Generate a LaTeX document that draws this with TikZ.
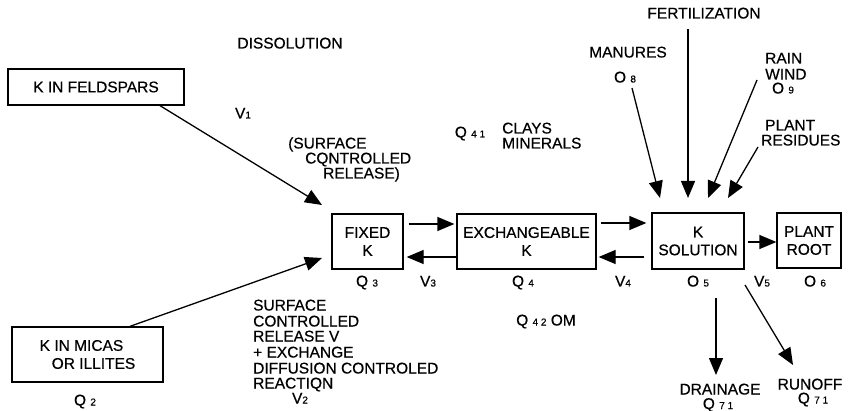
\documentclass[tikz,border=0pt]{standalone}
\usepackage{fontspec}
\setmainfont[FakeBold=0.5]{Liberation Sans}
\usetikzlibrary{arrows.meta}
\newcommand\dg[1]{{\fontsize{10}{10}\selectfont #1}}
\begin{document}
\begin{tikzpicture}[x=1pt,y=-1pt,
  font=\fontsize{15.5}{18}\selectfont,
  box/.style={draw, line width=1.3pt, inner sep=0pt, align=center},
  lbl/.style={inner sep=0pt, text height=11pt, text depth=0pt},
  arr/.style={line width=1.3pt, -{Triangle[length=17pt,width=14pt]}}]
\useasboundingbox (0,0) rectangle (850,411);

% boxes
\node[box, minimum width=176pt, minimum height=36pt] (feld) at (96,87) {K IN FELDSPARS};
\node[box, minimum width=151pt, minimum height=55pt, align=left] (micas) at (87.5,354.5) {K IN MICAS\\\hspace*{12pt}OR ILLITES};
\node[box, minimum width=71pt, minimum height=55pt] (fixed) at (367.5,241.5) {FIXED\\K};
\node[box, minimum width=139pt, minimum height=55pt] (exch) at (526.5,241.5) {EXCHANGEABLE\\K};
\node[box, minimum width=92pt, minimum height=56pt] (ksol) at (698,241) {K\\SOLUTION};
\node[box, minimum width=64pt, minimum height=55pt] (root) at (809,240.5) {PLANT\\ROOT};

% horizontal arrows
\draw[arr, shorten <=5pt, shorten >=2pt] (fixed.east |- 0,224) -- (exch.west |- 0,224);
\draw[arr, shorten >=3pt] (exch.west |- 0,257) -- (fixed.east |- 0,257);
\draw[arr, shorten <=4pt, shorten >=5pt] (exch.east |- 0,223) -- (ksol.west |- 0,223);
\draw[arr, shorten <=7pt, shorten >=2pt] (ksol.west |- 0,257) -- (exch.east |- 0,257);
\draw[arr, shorten <=3pt] (ksol.east |- 0,242) -- (root.west |- 0,242);

% diagonal arrows to fixed K
\coordinate (t1) at (322,205);
\coordinate (t2) at (322,258);
\draw[arr] (feld.south -| 160,0) -- (t1);
\draw[arr] (micas.north -| 130,0) -- (t2);

% inputs to K solution
\coordinate (m0) at (632,88);  \coordinate (m1) at (660,198);
\coordinate (f0) at (688,29);  \coordinate (f1) at (688,198);
\coordinate (r0) at (757,80);  \coordinate (r1) at (708,198);
\coordinate (p0) at (758,147); \coordinate (p1) at (728,198);
\draw[arr] (m0) -- (m1);
\draw[arr] (f0) -- (f1);
\draw[arr] (r0) -- (r1);
\draw[arr] (p0) -- (p1);

% outputs
\coordinate (d0) at (716,298); \coordinate (d1) at (716,375);
\coordinate (u0) at (745,285); \coordinate (u1) at (793,365);
\draw[arr] (d0) -- (d1);
\draw[arr] (u0) -- (u1);

% labels
\node[lbl] (dis) at (290,43) {DISSOLUTION};
\node[lbl] (v1) at (243,113) {V\dg{1}};
\node[lbl, anchor=west] (sc1) at (288,143) {(SURFACE};
\node[lbl, anchor=west] (sc2) at (305,158) {CQNTROLLED};
\node[lbl, anchor=west] (sc3) at (323,173) {RELEASE)};
\node[lbl] (q41) at (470,132) {Q \dg{4 1}};
\node[lbl, anchor=west] (clays) at (502,128) {CLAYS};
\node[lbl, anchor=west] (miner) at (502,143) {MINERALS};
\node[lbl] (fert) at (704,13) {FERTILIZATION};
\node[lbl] (man) at (628,52) {MANURES};
\node[lbl] (o8) at (625,77) {O \dg{8}};
\node[lbl, anchor=west] (rain) at (765,58) {RAIN};
\node[lbl, anchor=west] (wind) at (765,74) {WIND};
\node[lbl] (o9) at (783,88) {O \dg{9}};
\node[lbl, anchor=west] (plant) at (765,125) {PLANT};
\node[lbl, anchor=west] (resid) at (761,140) {RESIDUES};

\node[lbl] (q3) at (367,281) {Q \dg{3}};
\node[lbl] (v3) at (428,281) {V\dg{3}};
\node[lbl] (q4) at (523,281) {Q \dg{4}};
\node[lbl] (v4) at (623,281) {V\dg{4}};
\node[lbl] (o5) at (698,281) {O \dg{5}};
\node[lbl] (v5) at (762,281) {V\dg{5}};
\node[lbl] (o6) at (815,281) {O \dg{6}};

\node[lbl, anchor=west] (s1) at (253,305) {SURFACE};
\node[lbl, anchor=west] (s2) at (253,321) {CONTROLLED};
\node[lbl, anchor=west] (s3) at (253,336) {RELEASE V};
\node[lbl, anchor=west] (s4) at (253,352) {+ EXCHANGE};
\node[lbl, anchor=west] (s5) at (253,368) {DIFFUSION CONTROLED};
\node[lbl, anchor=west] (s6) at (253,383) {REACTIQN};
\node[lbl] (v2) at (300,398) {V\dg{2}};

\node[lbl] (q42) at (546,320) {Q \dg{4 2} OM};
\node[lbl] (q2) at (85,400) {Q \dg{2}};

\node[lbl] (drain) at (720,389) {DRAINAGE};
\node[lbl] (q71a) at (718,403.5) {Q \dg{7 1}};
\node[lbl] (runoff) at (810,384) {RUNOFF};
\node[lbl] (q71b) at (813,398) {Q \dg{7 1}};
\end{tikzpicture}
\end{document}
